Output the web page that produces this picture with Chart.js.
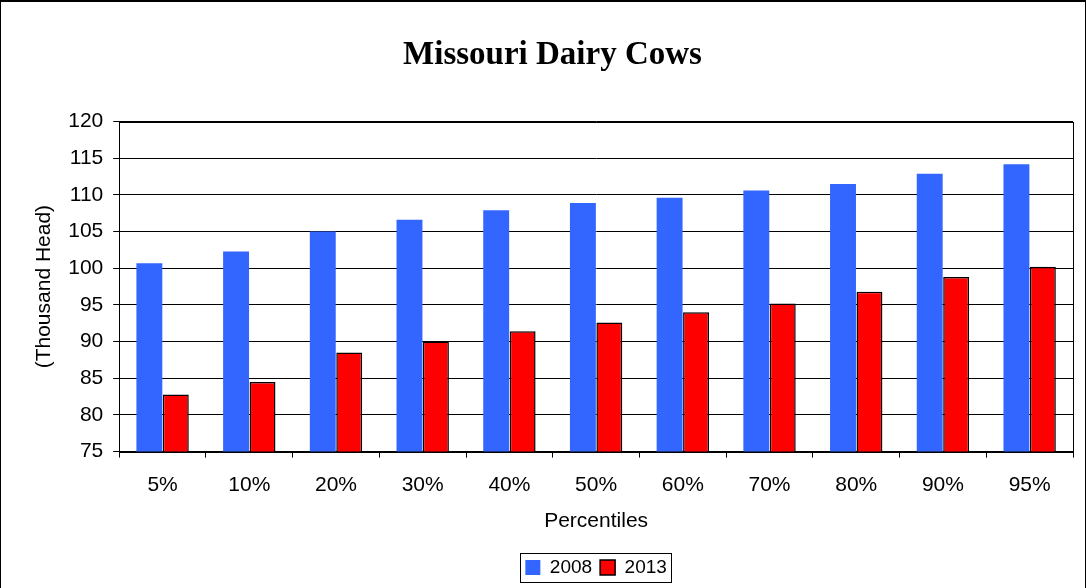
<!DOCTYPE html>
<html>
<head>
<meta charset="utf-8">
<script src="https://cdn.jsdelivr.net/npm/chart.js@4.4.0/dist/chart.umd.min.js"></script>
<style>
	html, body { margin: 0; padding: 0; background: #fff; }
	#wrap { position: relative; width: 1084px; height: 586px; border-left: 1px solid #000; border-right: 1px solid #000; border-top: 2px solid #000; }
</style>
</head>
<body>
<div id="wrap"><canvas id="chart"></canvas></div>
<script>
// chart values
var categories = ['5%', '10%', '20%', '30%', '40%', '50%', '60%', '70%', '80%', '90%', '95%'];
var cows2008 = [100.7, 102.3, 105.0, 106.6, 107.9, 108.9, 109.6, 110.6, 111.5, 112.9, 114.2];
var cows2013 = [82.8, 84.5, 88.5, 90.0, 91.4, 92.6, 94.0, 95.2, 96.8, 98.8, 100.2];
var seriesLabels = ['2008', '2013'];

var sans = "'Liberation Sans', Arial, sans-serif";

// outline around plot area and legend, like the spreadsheet look
var frame_plugin = {
	id: 'frame',
	afterDraw: function(chart) {
		var ctx = chart.ctx;
		var a = chart.chartArea;
		ctx.save();
		ctx.strokeStyle = '#000';
		ctx.lineWidth = 1;
		ctx.strokeRect(Math.round(a.left) + 0.5, Math.round(a.top) + 0.5, Math.round(a.right - a.left), Math.round(a.bottom - a.top));
		var boxes = chart.legend.legendHitBoxes;
		if (boxes && boxes.length) {
			var x1 = boxes[0].left - 5;
			var last = boxes[boxes.length - 1];
			var x2 = last.left + last.width + 4;
			var y1 = boxes[0].top - 5;
			var y2 = boxes[0].top + boxes[0].height + 5;
			ctx.strokeRect(Math.round(x1) + 0.5, Math.round(y1) + 0.5, Math.round(x2 - x1), Math.round(y2 - y1));
		}
		ctx.restore();
	}
};

var ctx = document.getElementById('chart');
new Chart(ctx, {
	type: 'bar',
	data: {
		labels: categories,
		datasets: [{
			label: seriesLabels[0],
			data: cows2008,
			backgroundColor: '#3366ff',
			borderWidth: 0
		}, {
			label: seriesLabels[1],
			data: cows2013,
			backgroundColor: '#ff0000',
			borderColor: '#000',
			borderWidth: 1.5
		}]
	},
	options: {
		responsive: true,
		maintainAspectRatio: false,
		animation: false,
		layout: { padding: { left: 31, right: 12, top: 0, bottom: 1 } },
		datasets: { bar: { barPercentage: 0.98, categoryPercentage: 0.61 } },
		plugins: {
			title: {
				display: true,
				text: 'Missouri Dairy Cows',
				color: '#000',
				font: { family: "'Liberation Serif', 'Times New Roman', serif", size: 33, weight: 'bold' },
				padding: { top: 34, bottom: 46 }
			},
			legend: {
				position: 'bottom',
				fullSize: false,
				labels: {
					color: '#000',
					font: { family: sans, size: 19 },
					boxWidth: 15,
					boxHeight: 15,
					padding: 8
				}
			},
			tooltip: { enabled: false }
		},
		scales: {
			x: {
				grid: { display: true, drawOnChartArea: false, drawTicks: true, tickLength: 6, color: '#000' },
				border: { color: '#000' },
				ticks: { color: '#000', font: { family: sans, size: 21 }, padding: 15, maxRotation: 0 },
				title: { display: true, text: 'Percentiles', color: '#000', font: { family: sans, size: 21 }, padding: { top: -4, bottom: 16 } }
			},
			y: {
				min: 75,
				max: 120,
				ticks: { stepSize: 5, color: '#000', font: { family: sans, size: 21 }, padding: 10 },
				grid: { color: '#000', tickLength: 6 },
				border: { color: '#000' },
				title: { display: true, text: '(Thousand Head)', color: '#000', font: { family: sans, size: 21 }, padding: { top: 0, bottom: 1 } }
			}
		}
	},
	plugins: [frame_plugin]
});
</script>
</body>
</html>
